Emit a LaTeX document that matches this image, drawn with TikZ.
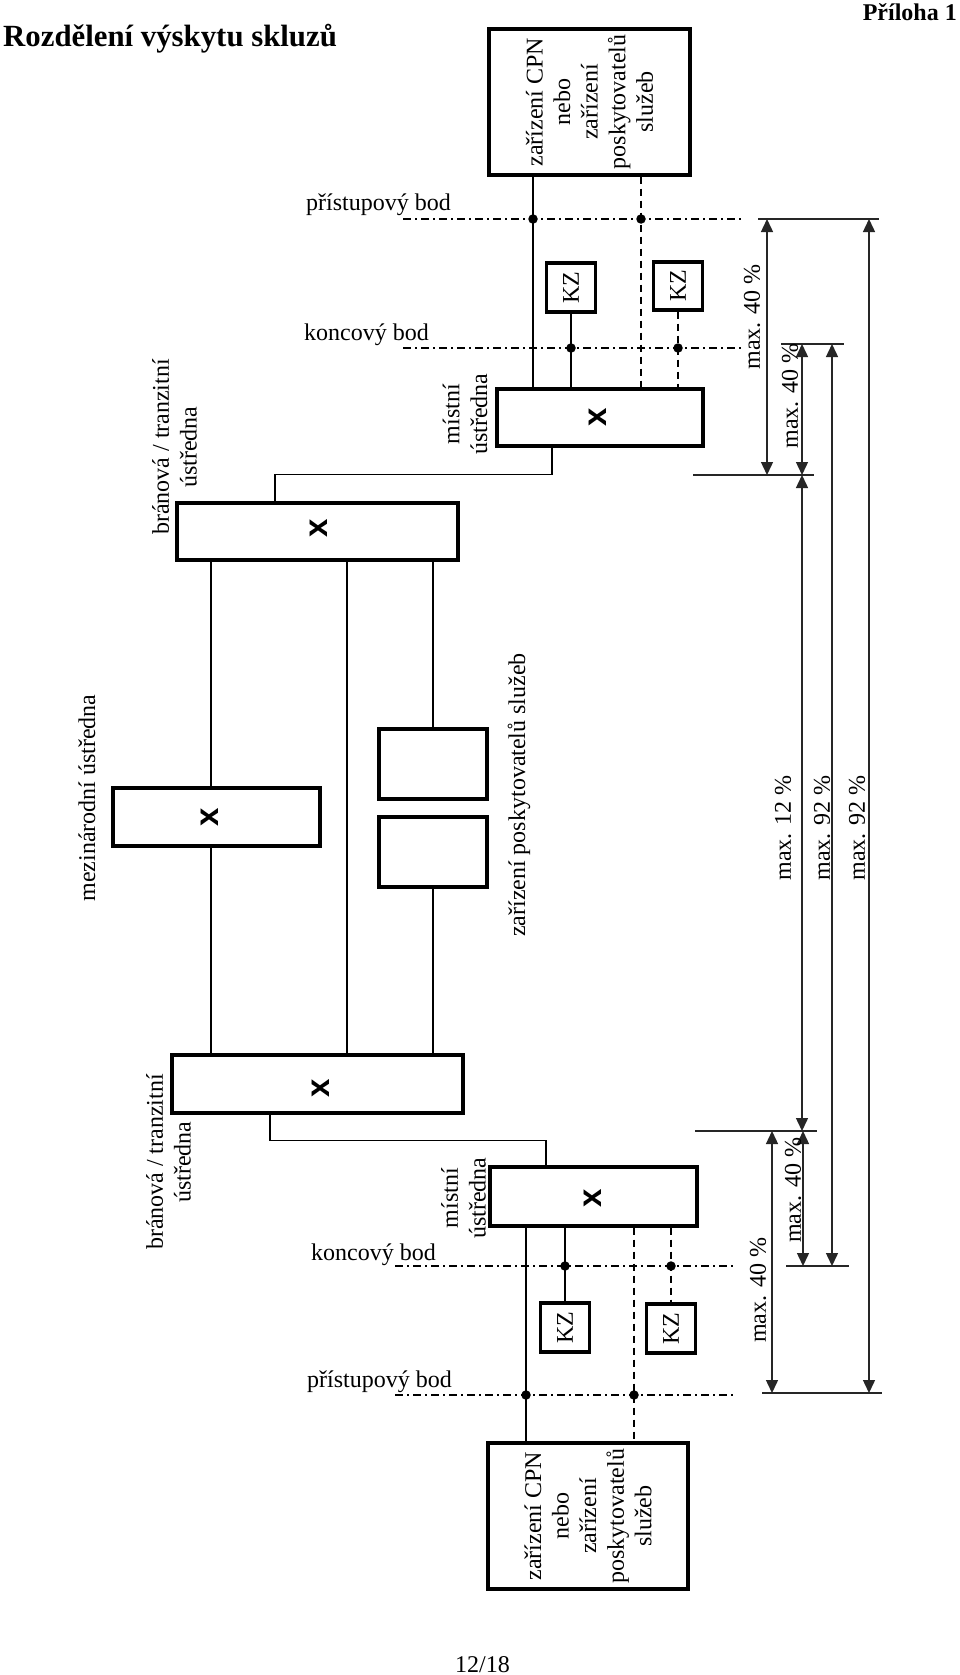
\documentclass[tikz,border=0pt]{standalone}
\usepackage{fontspec}
\setmainfont{Liberation Serif}
\newfontfamily\xfont{Liberation Sans}
\usetikzlibrary{arrows.meta}
\tikzset{
  blk/.style={draw, line width=3.2pt, fill=white, inner sep=0pt},
  conn/.style={line width=1.6pt},
  dconn/.style={line width=1.6pt, dash pattern=on 7pt off 5pt},
  refline/.style={line width=1.4pt, dash pattern=on 8pt off 4pt on 2pt off 4pt},
  dimline/.style={line width=1.4pt, draw=black!85},
  dimarr/.style={dimline, {Triangle[length=13pt,width=12pt]}-{Triangle[length=13pt,width=12pt]}},
  lbl/.style={font=\fontsize{24}{27.6}\selectfont, inner sep=0pt},
  rlbl/.style={lbl, rotate=90, align=center},
  xmark/.style={font=\xfont\bfseries\fontsize{33}{33}\selectfont, rotate=90, inner sep=0pt},
  jdot/.style={circle, fill, inner sep=0pt, minimum size=9.5pt},
}
\begin{document}
\begin{tikzpicture}[x=1pt,y=-1pt]
\fill[white] (0,0) rectangle (960,1675);
\useasboundingbox (0,0) rectangle (960,1675);

% titles
\node[anchor=base west, inner sep=0pt, font=\bfseries\fontsize{30.8}{32}\selectfont] (title) at (3,47) {Rozdělení výskytu skluzů};
\node[anchor=base east, inner sep=0pt, font=\bfseries\fontsize{24}{27}\selectfont] (annex) at (957,21) {Příloha 1};
\node[lbl, anchor=base west] (page) at (455,1672) {12/18};

% boxes
\node[blk, minimum width=201pt, minimum height=146pt] (cpnT) at (589.5,102) {};
\node[blk, minimum width=49pt, minimum height=49pt] (kzT1) at (571,287.5) {};
\node[blk, minimum width=49pt, minimum height=48pt] (kzT2) at (678,286) {};
\node[blk, minimum width=206pt, minimum height=57pt] (locT) at (600,417.5) {};
\node[blk, minimum width=281pt, minimum height=57pt] (gwT) at (317.5,531.5) {};
\node[blk, minimum width=207pt, minimum height=58pt] (intl) at (216.5,817) {};
\node[blk, minimum width=108pt, minimum height=70pt] (svc1) at (433,764) {};
\node[blk, minimum width=108pt, minimum height=70pt] (svc2) at (433,852) {};
\node[blk, minimum width=291pt, minimum height=58pt] (gwB) at (317.5,1084) {};
\node[blk, minimum width=207pt, minimum height=59pt] (locB) at (593.5,1196.5) {};
\node[blk, minimum width=49pt, minimum height=49pt] (kzB1) at (565,1327.5) {};
\node[blk, minimum width=49pt, minimum height=49pt] (kzB2) at (671,1328.5) {};
\node[blk, minimum width=200pt, minimum height=146pt] (cpnB) at (588,1516) {};

% box texts
\node[rlbl] (cpnTt) at (cpnT) {zařízení CPN\\nebo\\zařízení\\poskytovatelů\\služeb};
\node[rlbl] (cpnBt) at (cpnB) {zařízení CPN\\nebo\\zařízení\\poskytovatelů\\služeb};
\node[rlbl] (kzT1t) at (kzT1) {KZ};
\node[rlbl] (kzT2t) at (kzT2) {KZ};
\node[rlbl] (kzB1t) at (kzB1) {KZ};
\node[rlbl] (kzB2t) at (kzB2) {KZ};
\node[xmark] (xlocT) at (598,417) {x};
\node[xmark] (xgwT) at (319,528) {x};
\node[xmark] (xintl) at (210,817) {x};
\node[xmark] (xgwB) at (321,1088) {x};
\node[xmark] (xlocB) at (593,1198) {x};

% side labels
\node[rlbl] (lgwT) at (174.5,447) {bránová / tranzitní\\ústředna};
\node[rlbl] (llocT) at (465,414) {místní\\ústředna};
\node[rlbl] (lintl) at (87,798) {mezinárodní ústředna};
\node[rlbl] (lsvc) at (519,795) {zařízení poskytovatelů služeb};
\node[rlbl] (lgwB) at (168.5,1162) {bránová / tranzitní\\ústředna};
\node[rlbl] (llocB) at (463.5,1198) {místní\\ústředna};

% reference lines (top)
\node[lbl, anchor=base west] (apT) at (306,210) {přístupový bod};
\node[lbl, anchor=base west] (kbT) at (304,340) {koncový bod};
\coordinate (apTs) at (403,219); \coordinate (apTe) at (741,219);
\coordinate (kbTs) at (403,348); \coordinate (kbTe) at (743,348);
\draw[refline] (apTs) -- (apTe);
\draw[refline] (kbTs) -- (kbTe);
% reference lines (bottom)
\node[lbl, anchor=base west] (kbB) at (311,1260) {koncový bod};
\node[lbl, anchor=base west] (apB) at (307,1387) {přístupový bod};
\coordinate (kbBs) at (395,1266); \coordinate (kbBe) at (735,1266);
\coordinate (apBs) at (395,1395); \coordinate (apBe) at (735,1395);
\draw[refline] (kbBs) -- (kbBe);
\draw[refline] (apBs) -- (apBe);

% top access connections
\coordinate (aT1) at (533,219); \coordinate (aT2) at (641,219);
\draw[conn] (cpnT.south -| aT1) -- (locT.north -| aT1);
\draw[dconn] (cpnT.south -| aT2) -- (locT.north -| aT2);
\draw[conn] (kzT1.south) -- (kzT1.south |- locT.north);
\draw[dconn] (kzT2.south) -- (kzT2.south |- locT.north);
\node[jdot] at (aT1) {};
\node[jdot] at (aT2) {};
\node[jdot] at (kzT1.south |- kbTs) {};
\node[jdot] at (kzT2.south |- kbTs) {};

% bottom access connections
\coordinate (aB1) at (526,1395); \coordinate (aB2) at (634,1395);
\draw[conn] (locB.south -| aB1) -- (cpnB.north -| aB1);
\draw[dconn] (locB.south -| aB2) -- (cpnB.north -| aB2);
\draw[conn] (locB.south -| kzB1.north) -- (kzB1.north);
\draw[dconn] (locB.south -| kzB2.north) -- (kzB2.north);
\node[jdot] at (aB1) {};
\node[jdot] at (aB2) {};
\node[jdot] at (kzB1.north |- kbBs) {};
\node[jdot] at (kzB2.north |- kbBs) {};

% exchange links
\draw[conn] ([xshift=-48]locT.south) -- ++(0,27) -| ([xshift=-42.5]gwT.north);
\draw[conn] ([xshift=-47.5]gwB.south) -- ++(0,26) -| ([xshift=-47.5]locB.north);
\draw[conn] ([xshift=-106.5]gwT.south) -- ([xshift=-5.5]intl.north);
\draw[conn] ([xshift=-5.5]intl.south) -- ([xshift=-106.5]gwB.north);
\draw[conn] ([xshift=29.5]gwT.south) -- ([xshift=29.5]gwB.north);
\draw[conn] ([xshift=115.5]gwT.south) -- (svc1.north);
\draw[conn] (svc2.south) -- ([xshift=115.5]gwB.north);

% dimension extension lines
\coordinate (e1a) at (758,219);  \coordinate (e1b) at (879,219);
\coordinate (e2a) at (781,344);  \coordinate (e2b) at (844,344);
\coordinate (e3a) at (693,475);  \coordinate (e3b) at (814,475);
\coordinate (e4a) at (695,1131); \coordinate (e4b) at (817,1131);
\coordinate (e5a) at (786,1266); \coordinate (e5b) at (849,1266);
\coordinate (e6a) at (762,1393); \coordinate (e6b) at (882,1393);
\foreach \e in {1,...,6} {\draw[dimline] (e\e a) -- (e\e b);}

% dimension arrows
\coordinate (A1s) at (767,219);  \coordinate (A1e) at (767,475);
\coordinate (A2s) at (802,344);  \coordinate (A2e) at (802,475);
\coordinate (A3s) at (802,475);  \coordinate (A3e) at (802,1131);
\coordinate (A4s) at (832,344);  \coordinate (A4e) at (832,1266);
\coordinate (A5s) at (869,219);  \coordinate (A5e) at (869,1393);
\coordinate (A6s) at (803,1131); \coordinate (A6e) at (803,1266);
\coordinate (A7s) at (772,1131); \coordinate (A7e) at (772,1393);
\foreach \a in {1,...,7} {\draw[dimarr] (A\a s) -- (A\a e);}

% dimension labels
\node[rlbl] (d1) at (752,317) {max. 40 \%};
\node[rlbl] (d2) at (790,396) {max. 40 \%};
\node[rlbl] (d3) at (783,828) {max. 12 \%};
\node[rlbl] (d4) at (822,828) {max. 92 \%};
\node[rlbl] (d5) at (857,828) {max. 92 \%};
\node[rlbl] (d6) at (793,1190) {max. 40 \%};
\node[rlbl] (d7) at (758,1290) {max. 40 \%};
\end{tikzpicture}
\end{document}
